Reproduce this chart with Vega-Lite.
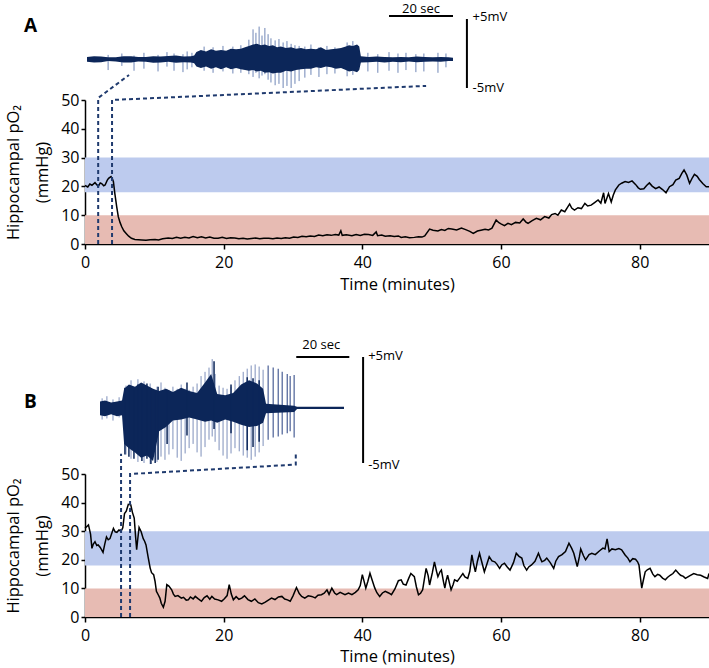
{
  "$schema": "https://vega.github.io/schema/vega-lite/v6.json",
  "padding": {"left": 5, "top": 0, "right": 0, "bottom": 0},
  "spacing": 13,
  "config": {
    "view": {"stroke": null},
    "font": "Open Sans",
    "axis": {
      "grid": false,
      "domainColor": "black",
      "domainWidth": 1.5,
      "tickColor": "black",
      "tickWidth": 1.5,
      "labelColor": "black",
      "titleColor": "black",
      "labelFontSize": 16,
      "titleFontSize": 16.5,
      "titleFontWeight": "normal"
    }
  },
  "datasets": {
    "bands": [
      {"band": "normoxia", "lo": 18, "hi": 30},
      {"band": "hypoxia", "lo": 0, "hi": 10}
    ],
    "pA": [
      {"t":0,"v":20.3},{"t":0.4,"v":19.8},{"t":0.7,"v":20.8},{"t":1.0,"v":20.4},{"t":1.44,"v":21.3},{"t":1.7,"v":20.6},{"t":1.9,"v":19.9},{"t":2.2,"v":21.2},{"t":2.4,"v":21.0},{"t":2.7,"v":20.2},{"t":2.9,"v":20.5},{"t":3.2,"v":22.1},{"t":3.4,"v":22.8},{"t":3.75,"v":23.4},{"t":3.95,"v":22.6},{"t":4.1,"v":21.6},{"t":4.3,"v":17.6},{"t":4.57,"v":13},{"t":4.8,"v":9.5},{"t":5.05,"v":7.5},{"t":5.3,"v":6.0},{"t":5.6,"v":4.6},{"t":6.0,"v":3.5},{"t":6.3,"v":2.7},{"t":6.7,"v":2.0},{"t":7.2,"v":1.6},{"t":7.7,"v":1.5},{"t":8.2,"v":1.4},{"t":8.8,"v":1.3},{"t":9.4,"v":1.5},{"t":10.1,"v":1.6},{"t":10.6,"v":1.4},{"t":11.2,"v":1.8},{"t":12.0,"v":2.1},{"t":12.6,"v":1.9},{"t":13.2,"v":2.3},{"t":13.8,"v":2.0},{"t":14.4,"v":2.3},{"t":15.0,"v":2.1},{"t":15.6,"v":2.6},{"t":16.2,"v":2.2},{"t":16.8,"v":2.5},{"t":17.4,"v":2.1},{"t":18.0,"v":2.4},{"t":18.6,"v":2.0},{"t":19.2,"v":2.0},{"t":19.8,"v":2.3},{"t":20.4,"v":1.9},{"t":21.0,"v":2.2},{"t":21.6,"v":2.1},{"t":22.2,"v":1.8},{"t":22.8,"v":2.0},{"t":23.4,"v":1.7},{"t":24.0,"v":1.9},{"t":24.6,"v":2.1},{"t":25.2,"v":1.8},{"t":25.8,"v":2.0},{"t":26.5,"v":2.0},{"t":27.1,"v":1.8},{"t":27.7,"v":2.1},{"t":28.3,"v":1.9},{"t":28.9,"v":2.2},{"t":29.5,"v":2.0},{"t":30.1,"v":2.4},{"t":30.7,"v":2.3},{"t":31.3,"v":2.7},{"t":31.9,"v":2.5},{"t":32.5,"v":2.8},{"t":33.1,"v":2.6},{"t":33.7,"v":3.1},{"t":34.3,"v":2.9},{"t":34.9,"v":3.2},{"t":35.5,"v":3.0},{"t":36.1,"v":3.3},{"t":36.6,"v":3.1},{"t":36.9,"v":4.6},{"t":37.1,"v":3.0},{"t":37.7,"v":3.2},{"t":38.5,"v":2.9},{"t":39.1,"v":3.3},{"t":39.7,"v":3.0},{"t":40.3,"v":3.4},{"t":40.9,"v":3.3},{"t":41.5,"v":3.0},{"t":42.0,"v":4.2},{"t":42.2,"v":2.9},{"t":42.8,"v":3.1},{"t":43.3,"v":2.7},{"t":44.0,"v":2.9},{"t":44.6,"v":2.6},{"t":45.2,"v":2.8},{"t":45.6,"v":2.3},{"t":46.2,"v":2.5},{"t":46.8,"v":2.2},{"t":47.5,"v":2.3},{"t":48.1,"v":2.5},{"t":48.6,"v":2.4},{"t":49.0,"v":2.8},{"t":49.7,"v":5.2},{"t":50.2,"v":4.8},{"t":50.9,"v":4.5},{"t":51.4,"v":5.0},{"t":51.9,"v":4.7},{"t":52.4,"v":5.4},{"t":52.9,"v":5.2},{"t":53.6,"v":4.9},{"t":54.3,"v":5.5},{"t":54.9,"v":5.0},{"t":55.5,"v":4.4},{"t":56.0,"v":3.7},{"t":56.6,"v":4.5},{"t":57.1,"v":4.8},{"t":57.7,"v":5.1},{"t":58.2,"v":4.9},{"t":58.7,"v":5.5},{"t":59.3,"v":8.3},{"t":59.7,"v":7.4},{"t":60.0,"v":7.0},{"t":60.5,"v":6.4},{"t":61.0,"v":7.2},{"t":61.5,"v":6.7},{"t":62.1,"v":7.5},{"t":62.7,"v":7.3},{"t":63.2,"v":8.7},{"t":63.6,"v":7.6},{"t":63.9,"v":7.2},{"t":64.5,"v":8.1},{"t":65.1,"v":8.9},{"t":65.7,"v":8.4},{"t":66.3,"v":9.5},{"t":66.9,"v":9.0},{"t":67.3,"v":10.2},{"t":67.8,"v":10.6},{"t":68.2,"v":10.0},{"t":68.7,"v":11.8},{"t":69.2,"v":11.2},{"t":69.9,"v":13.9},{"t":70.2,"v":12.5},{"t":70.6,"v":11.8},{"t":71.1,"v":12.6},{"t":71.6,"v":12.3},{"t":72.1,"v":14.1},{"t":72.5,"v":13.2},{"t":73.0,"v":13.5},{"t":73.5,"v":14.4},{"t":74.0,"v":15.3},{"t":74.4,"v":14.2},{"t":74.8,"v":17.8},{"t":75.0,"v":14.1},{"t":75.5,"v":17.5},{"t":75.9,"v":14.6},{"t":76.2,"v":17.0},{"t":76.5,"v":18.8},{"t":77.0,"v":20.5},{"t":77.4,"v":21.1},{"t":77.9,"v":21.7},{"t":78.4,"v":21.4},{"t":78.9,"v":21.9},{"t":79.4,"v":20.7},{"t":79.8,"v":19.5},{"t":80.1,"v":19.0},{"t":80.6,"v":19.2},{"t":81.0,"v":20.3},{"t":81.4,"v":21.2},{"t":81.8,"v":20.1},{"t":82.3,"v":19.2},{"t":82.8,"v":19.8},{"t":83.3,"v":18.9},{"t":83.8,"v":17.8},{"t":84.3,"v":19.9},{"t":84.8,"v":20.6},{"t":85.2,"v":22.2},{"t":85.7,"v":22.8},{"t":86.1,"v":24.6},{"t":86.4,"v":25.7},{"t":86.8,"v":23.9},{"t":87.2,"v":21.1},{"t":87.6,"v":23.0},{"t":87.9,"v":24.2},{"t":88.3,"v":23.5},{"t":88.6,"v":22.4},{"t":89.1,"v":21.0},{"t":89.6,"v":19.9},{"t":90,"v":19.9}
    ],
    "pB": [
      {"t":0,"v":31.0},{"t":0.5,"v":32.2},{"t":0.8,"v":29.0},{"t":1.0,"v":24.0},{"t":1.2,"v":25.5},{"t":1.44,"v":26.3},{"t":1.7,"v":25.0},{"t":1.9,"v":25.2},{"t":2.2,"v":24.3},{"t":2.6,"v":22.6},{"t":2.85,"v":25.5},{"t":3.1,"v":28.0},{"t":3.35,"v":27.0},{"t":3.6,"v":27.4},{"t":3.85,"v":29.2},{"t":4.1,"v":31.0},{"t":4.35,"v":29.8},{"t":4.6,"v":29.6},{"t":4.9,"v":30.4},{"t":5.2,"v":30.0},{"t":5.45,"v":31.2},{"t":5.7,"v":36.2},{"t":5.95,"v":37.0},{"t":6.25,"v":39.4},{"t":6.6,"v":39.2},{"t":6.85,"v":36.5},{"t":7.1,"v":34.6},{"t":7.3,"v":28.0},{"t":7.45,"v":23.5},{"t":7.6,"v":27.0},{"t":7.8,"v":31.3},{"t":8.1,"v":29.8},{"t":8.4,"v":27.4},{"t":8.6,"v":26.5},{"t":8.8,"v":25.2},{"t":9.1,"v":21.0},{"t":9.4,"v":17.1},{"t":9.6,"v":15.5},{"t":9.9,"v":14.8},{"t":10.1,"v":12.5},{"t":10.3,"v":9.0},{"t":10.6,"v":7.6},{"t":10.8,"v":6.6},{"t":11.0,"v":4.8},{"t":11.3,"v":3.4},{"t":11.55,"v":5.5},{"t":11.8,"v":11.3},{"t":12.1,"v":10.8},{"t":12.5,"v":9.5},{"t":12.75,"v":8.0},{"t":13.0,"v":7.2},{"t":13.4,"v":7.5},{"t":13.9,"v":6.6},{"t":14.2,"v":6.9},{"t":14.6,"v":5.9},{"t":14.9,"v":6.0},{"t":15.2,"v":7.0},{"t":15.6,"v":6.3},{"t":15.9,"v":7.2},{"t":16.3,"v":6.4},{"t":16.8,"v":5.5},{"t":17.2,"v":6.8},{"t":17.6,"v":7.4},{"t":18.0,"v":6.2},{"t":18.3,"v":7.2},{"t":18.7,"v":6.3},{"t":19.2,"v":6.0},{"t":19.7,"v":5.5},{"t":20.1,"v":6.4},{"t":20.5,"v":7.5},{"t":20.8,"v":11.3},{"t":21.1,"v":8.0},{"t":21.4,"v":6.0},{"t":21.8,"v":7.1},{"t":22.2,"v":6.2},{"t":22.6,"v":6.6},{"t":23.0,"v":7.4},{"t":23.5,"v":6.1},{"t":24.0,"v":5.5},{"t":24.5,"v":6.3},{"t":25.0,"v":5.0},{"t":25.5,"v":4.6},{"t":26.0,"v":5.2},{"t":26.5,"v":6.0},{"t":26.9,"v":6.6},{"t":27.4,"v":6.1},{"t":27.9,"v":7.0},{"t":28.4,"v":7.2},{"t":28.8,"v":6.3},{"t":29.2,"v":6.0},{"t":29.6,"v":5.5},{"t":30.0,"v":7.4},{"t":30.5,"v":10.3},{"t":30.9,"v":8.2},{"t":31.25,"v":7.2},{"t":31.7,"v":6.6},{"t":32.2,"v":7.4},{"t":32.7,"v":7.2},{"t":33.2,"v":6.7},{"t":33.6,"v":7.6},{"t":34.1,"v":7.8},{"t":34.5,"v":8.3},{"t":34.9,"v":9.5},{"t":35.2,"v":7.9},{"t":35.6,"v":10.1},{"t":36.0,"v":8.4},{"t":36.3,"v":7.8},{"t":36.8,"v":8.6},{"t":37.5,"v":7.8},{"t":38.0,"v":8.4},{"t":38.5,"v":7.8},{"t":39.0,"v":8.6},{"t":39.4,"v":9.5},{"t":39.7,"v":11.0},{"t":40.0,"v":14.8},{"t":40.3,"v":12.0},{"t":40.5,"v":10.1},{"t":40.8,"v":12.5},{"t":41.1,"v":15.3},{"t":41.4,"v":13.0},{"t":41.8,"v":10.1},{"t":42.1,"v":8.5},{"t":42.5,"v":7.2},{"t":42.9,"v":8.4},{"t":43.3,"v":9.0},{"t":43.8,"v":8.4},{"t":44.2,"v":7.8},{"t":44.7,"v":9.8},{"t":45.2,"v":12.7},{"t":45.6,"v":13.0},{"t":45.9,"v":11.5},{"t":46.3,"v":11.2},{"t":46.7,"v":13.6},{"t":47.0,"v":15.2},{"t":47.5,"v":14.1},{"t":47.8,"v":10.5},{"t":48.1,"v":7.8},{"t":48.4,"v":8.3},{"t":48.7,"v":9.5},{"t":49.0,"v":14.0},{"t":49.2,"v":17.0},{"t":49.5,"v":14.4},{"t":49.7,"v":11.2},{"t":50.1,"v":15.5},{"t":50.4,"v":19.3},{"t":50.7,"v":16.0},{"t":50.9,"v":14.1},{"t":51.2,"v":15.8},{"t":51.4,"v":16.4},{"t":51.7,"v":12.4},{"t":51.9,"v":10.1},{"t":52.1,"v":12.8},{"t":52.3,"v":14.6},{"t":52.6,"v":11.5},{"t":52.8,"v":9.5},{"t":53.1,"v":11.4},{"t":53.3,"v":13.0},{"t":53.7,"v":12.5},{"t":54.0,"v":13.5},{"t":54.5,"v":15.2},{"t":54.8,"v":14.0},{"t":55.2,"v":13.5},{"t":55.5,"v":16.0},{"t":55.8,"v":21.7},{"t":56.0,"v":19.0},{"t":56.3,"v":15.8},{"t":56.6,"v":19.5},{"t":56.9,"v":22.3},{"t":57.2,"v":19.5},{"t":57.6,"v":15.8},{"t":57.9,"v":18.0},{"t":58.3,"v":21.1},{"t":58.7,"v":19.6},{"t":59.1,"v":19.3},{"t":59.4,"v":18.5},{"t":59.8,"v":17.0},{"t":60.1,"v":18.2},{"t":60.5,"v":18.8},{"t":60.9,"v":17.5},{"t":61.3,"v":16.4},{"t":61.8,"v":19.0},{"t":62.2,"v":22.3},{"t":62.6,"v":21.2},{"t":63.0,"v":20.6},{"t":63.3,"v":18.0},{"t":63.7,"v":16.4},{"t":64.0,"v":17.5},{"t":64.4,"v":18.2},{"t":64.9,"v":19.5},{"t":65.4,"v":22.3},{"t":65.7,"v":20.4},{"t":65.9,"v":19.3},{"t":66.3,"v":19.8},{"t":66.6,"v":20.6},{"t":67.1,"v":19.0},{"t":67.6,"v":17.0},{"t":67.9,"v":19.5},{"t":68.3,"v":21.1},{"t":68.8,"v":21.8},{"t":69.3,"v":22.9},{"t":69.8,"v":25.8},{"t":70.2,"v":24.0},{"t":70.5,"v":22.3},{"t":70.8,"v":19.5},{"t":71.0,"v":17.6},{"t":71.3,"v":21.0},{"t":71.5,"v":23.8},{"t":71.9,"v":21.4},{"t":72.2,"v":20.0},{"t":72.7,"v":21.8},{"t":73.1,"v":22.3},{"t":73.6,"v":21.8},{"t":74.1,"v":22.9},{"t":74.4,"v":23.5},{"t":74.7,"v":24.1},{"t":75.0,"v":23.8},{"t":75.3,"v":27.3},{"t":75.6,"v":22.9},{"t":76.0,"v":23.8},{"t":76.5,"v":23.5},{"t":77.0,"v":23.9},{"t":77.4,"v":23.5},{"t":77.9,"v":21.7},{"t":78.3,"v":20.6},{"t":78.6,"v":19.3},{"t":79.0,"v":20.4},{"t":79.4,"v":20.2},{"t":79.7,"v":19.3},{"t":79.9,"v":18.2},{"t":80.1,"v":14.0},{"t":80.3,"v":10.1},{"t":80.5,"v":12.5},{"t":80.8,"v":15.8},{"t":81.1,"v":16.5},{"t":81.5,"v":17.0},{"t":81.9,"v":15.0},{"t":82.2,"v":14.1},{"t":82.6,"v":14.9},{"t":82.9,"v":14.6},{"t":83.3,"v":13.6},{"t":83.7,"v":13.0},{"t":84.0,"v":13.8},{"t":84.4,"v":14.6},{"t":84.8,"v":15.2},{"t":85.2,"v":16.4},{"t":85.6,"v":15.3},{"t":85.9,"v":14.6},{"t":86.3,"v":14.2},{"t":86.6,"v":13.5},{"t":87.2,"v":14.4},{"t":87.8,"v":15.2},{"t":88.3,"v":14.8},{"t":88.8,"v":14.6},{"t":89.3,"v":14.0},{"t":89.8,"v":13.5},{"t":90,"v":15.2}
    ],
    "dashA": [
      {"seg":"start","i":0,"t":1.9,"v":0},{"seg":"start","i":1,"t":1.9,"v":50.7},{"seg":"start","i":2,"t":6.35,"v":58.7},
      {"seg":"end","i":0,"t":3.9,"v":0},{"seg":"end","i":1,"t":3.9,"v":50},{"seg":"end","i":2,"t":49.2,"v":54.9}
    ],
    "dashB": [
      {"seg":"start","i":0,"t":5.2,"v":0},{"seg":"start","i":1,"t":5.2,"v":57.1},
      {"seg":"end","i":0,"t":6.5,"v":0},{"seg":"end","i":1,"t":6.5,"v":50},{"seg":"end","i":2,"t":30.4,"v":53.3},{"seg":"end","i":3,"t":30.4,"v":57.8}
    ],
    "eegA": [
      {"s":0,"lo":-1.2,"hi":-0.5},{"s":2.2,"lo":-1.3,"hi":-0.4},{"s":4.4,"lo":-1.25,"hi":-0.45},{"s":6.6,"lo":-1.1,"hi":-0.55},{"s":9,"lo":-1.15,"hi":-0.55},{"s":11.4,"lo":-1.3,"hi":-0.4},{"s":13.8,"lo":-1.3,"hi":-0.4},{"s":16,"lo":-1.15,"hi":-0.5},{"s":18.4,"lo":-1.2,"hi":-0.5},{"s":20.7,"lo":-1.35,"hi":-0.4},{"s":23,"lo":-1.3,"hi":-0.45},{"s":25.4,"lo":-1.2,"hi":-0.35},{"s":27.8,"lo":-1.35,"hi":-0.3},{"s":30.2,"lo":-1.25,"hi":-0.45},{"s":32.5,"lo":-1.3,"hi":-0.4},{"s":33.5,"lo":-1.4,"hi":-0.3},{"s":34.2,"lo":-1.9,"hi":0.2},{"s":35.6,"lo":-2.1,"hi":0.5},{"s":37.2,"lo":-1.9,"hi":0.3},{"s":38.8,"lo":-2.2,"hi":0.6},{"s":40.3,"lo":-2.0,"hi":0.4},{"s":41.9,"lo":-2.3,"hi":0.5},{"s":43.5,"lo":-2.0,"hi":0.4},{"s":45,"lo":-2.3,"hi":0.7},{"s":46.6,"lo":-2.1,"hi":0.6},{"s":48.1,"lo":-2.3,"hi":0.7},{"s":49.4,"lo":-2.4,"hi":0.9},{"s":50.6,"lo":-2.5,"hi":1.1},{"s":51.9,"lo":-2.4,"hi":1.3},{"s":53.1,"lo":-2.6,"hi":1.4},{"s":54.4,"lo":-2.5,"hi":1.2},{"s":55.6,"lo":-2.8,"hi":1.3},{"s":56.9,"lo":-2.7,"hi":1.1},{"s":58.1,"lo":-2.9,"hi":1.2},{"s":59.4,"lo":-2.8,"hi":0.9},{"s":60.6,"lo":-2.8,"hi":1.0},{"s":62.2,"lo":-2.5,"hi":0.8},{"s":63.8,"lo":-2.6,"hi":0.9},{"s":65.3,"lo":-2.4,"hi":0.7},{"s":66.9,"lo":-2.3,"hi":0.8},{"s":68.4,"lo":-2.2,"hi":0.6},{"s":70,"lo":-2.2,"hi":0.7},{"s":71.6,"lo":-2.0,"hi":0.6},{"s":73.1,"lo":-2.1,"hi":0.9},{"s":74.7,"lo":-1.9,"hi":0.5},{"s":76.3,"lo":-2.0,"hi":0.6},{"s":77.8,"lo":-2.2,"hi":0.7},{"s":79.4,"lo":-2.1,"hi":0.8},{"s":80.9,"lo":-2.4,"hi":1.0},{"s":81.9,"lo":-2.6,"hi":1.2},{"s":83.1,"lo":-2.5,"hi":1.1},{"s":84.4,"lo":-2.7,"hi":1.3},{"s":85.1,"lo":-2.4,"hi":1.0},{"s":85.6,"lo":-1.3,"hi":-0.4},{"s":88,"lo":-1.25,"hi":-0.5},{"s":90.5,"lo":-1.2,"hi":-0.45},{"s":93,"lo":-1.3,"hi":-0.5},{"s":95.6,"lo":-1.2,"hi":-0.55},{"s":98.1,"lo":-1.25,"hi":-0.5},{"s":100.6,"lo":-1.15,"hi":-0.55},{"s":103.1,"lo":-1.25,"hi":-0.45},{"s":105.6,"lo":-1.2,"hi":-0.5},{"s":108.1,"lo":-1.15,"hi":-0.55},{"s":110.6,"lo":-1.2,"hi":-0.5},{"s":113,"lo":-1.1,"hi":-0.55},{"s":114.4,"lo":-1.1,"hi":-0.6}
    ],
    "spkA": [
      {"s":6.6,"lo":-2.4,"hi":-0.2},{"s":10.9,"lo":-1.8,"hi":0.0},{"s":14.7,"lo":-2.5,"hi":-0.3},{"s":17.8,"lo":-2.2,"hi":0.1},{"s":22.2,"lo":-2.6,"hi":-0.2},{"s":25,"lo":-1.9,"hi":0.2},{"s":27.2,"lo":-2.5,"hi":0.0},{"s":30,"lo":-2.7,"hi":-0.1},{"s":31.3,"lo":-2.3,"hi":0.3},{"s":32.8,"lo":-2.0,"hi":0.1},
      {"s":36.6,"lo":-2.5,"hi":1.0},{"s":39.4,"lo":-2.8,"hi":0.9},{"s":42.5,"lo":-2.6,"hi":1.1},{"s":45.6,"lo":-2.9,"hi":1.0},{"s":48.1,"lo":-2.8,"hi":1.2},{"s":50.6,"lo":-3.0,"hi":2.0},{"s":51.9,"lo":-3.4,"hi":3.5},{"s":52.8,"lo":-2.8,"hi":3.0},{"s":53.8,"lo":-3.6,"hi":3.9},{"s":54.7,"lo":-3.2,"hi":2.6},{"s":55.6,"lo":-3.0,"hi":3.7},{"s":56.6,"lo":-3.8,"hi":2.8},{"s":57.5,"lo":-4.2,"hi":2.2},{"s":58.8,"lo":-4.6,"hi":1.9},{"s":60,"lo":-4.4,"hi":2.1},{"s":61.3,"lo":-5.0,"hi":1.6},{"s":62.5,"lo":-4.7,"hi":1.8},{"s":63.8,"lo":-5.0,"hi":1.4},{"s":65,"lo":-4.4,"hi":1.2},{"s":66.3,"lo":-4.0,"hi":1.1},{"s":68.1,"lo":-3.5,"hi":1.0},{"s":70,"lo":-3.1,"hi":1.3},{"s":72.5,"lo":-3.4,"hi":0.9},{"s":75,"lo":-3.0,"hi":1.1},{"s":77.5,"lo":-2.9,"hi":0.9},{"s":81.3,"lo":-3.3,"hi":1.6},{"s":83.1,"lo":-3.1,"hi":1.8},
      {"s":87.8,"lo":-2.6,"hi":0.1},{"s":90.9,"lo":-2.8,"hi":-0.1},{"s":94.4,"lo":-2.5,"hi":0.2},{"s":97.2,"lo":-2.8,"hi":0.0},{"s":99.7,"lo":-2.4,"hi":0.1},{"s":102.8,"lo":-2.7,"hi":-0.1},{"s":105.3,"lo":-2.6,"hi":0.0},{"s":109.7,"lo":-2.8,"hi":0.1},{"s":112.2,"lo":-2.0,"hi":0.0}
    ],
    "eegB": [
      {"s":0,"lo":-0.5,"hi":0.8},{"s":1.9,"lo":-0.6,"hi":0.9},{"s":4.2,"lo":-0.4,"hi":0.7},{"s":6.4,"lo":-0.6,"hi":0.8},{"s":8.3,"lo":-0.5,"hi":0.9},{"s":9.1,"lo":-3.2,"hi":2.0},{"s":10.9,"lo":-3.6,"hi":2.4},{"s":13.2,"lo":-4.0,"hi":2.2},{"s":15.5,"lo":-4.5,"hi":2.6},{"s":17.7,"lo":-4.3,"hi":2.3},{"s":20,"lo":-4.8,"hi":2.0},{"s":22.3,"lo":-2.0,"hi":1.8},{"s":24.9,"lo":-1.6,"hi":2.0},{"s":27.5,"lo":-1.0,"hi":1.7},{"s":30.6,"lo":-0.9,"hi":2.1},{"s":33.6,"lo":-0.7,"hi":1.8},{"s":36.6,"lo":-0.9,"hi":1.6},{"s":39.6,"lo":-1.1,"hi":2.6},{"s":41.9,"lo":-1.0,"hi":3.4},{"s":44.2,"lo":-1.2,"hi":1.5},{"s":47.2,"lo":-0.9,"hi":1.4},{"s":50.2,"lo":-1.1,"hi":1.6},{"s":53.2,"lo":-1.4,"hi":2.4},{"s":56.2,"lo":-1.6,"hi":2.8},{"s":59.2,"lo":-1.5,"hi":2.5},{"s":61.5,"lo":-1.2,"hi":2.0},{"s":62.6,"lo":-0.3,"hi":0.6},{"s":73.2,"lo":-0.2,"hi":0.4},{"s":74.3,"lo":0.1,"hi":0.3},{"s":92,"lo":0.1,"hi":0.3}
    ],
    "spkB": [
      {"s":0.8,"lo":-0.9,"hi":1.1},{"s":2.6,"lo":-0.8,"hi":1.3},{"s":4.9,"lo":-1.0,"hi":1.0},{"s":7.2,"lo":-0.7,"hi":1.2},
      {"s":9.8,"lo":-4.2,"hi":2.3},{"s":11.7,"lo":-4.6,"hi":2.8},{"s":14.3,"lo":-4.9,"hi":2.9},{"s":16.6,"lo":-5.0,"hi":2.7},{"s":18.9,"lo":-5.1,"hi":2.5},{"s":21.5,"lo":-4.9,"hi":2.2},{"s":23,"lo":-4.4,"hi":2.6},{"s":24.5,"lo":-4.7,"hi":2.1},{"s":26,"lo":-4.2,"hi":1.9},{"s":27.5,"lo":-3.7,"hi":2.2},{"s":29.1,"lo":-4.5,"hi":2.0},{"s":30.6,"lo":-4.8,"hi":2.4},{"s":32.1,"lo":-4.1,"hi":2.0},{"s":33.6,"lo":-3.6,"hi":1.9},{"s":35.1,"lo":-3.2,"hi":2.2},{"s":36.6,"lo":-4.0,"hi":2.5},{"s":38.1,"lo":-4.4,"hi":3.2},{"s":39.6,"lo":-3.5,"hi":3.6},{"s":41.1,"lo":-2.8,"hi":4.0},{"s":42.3,"lo":-2.5,"hi":4.8},{"s":43.4,"lo":-3.0,"hi":3.4},{"s":44.9,"lo":-3.8,"hi":2.3},{"s":46.4,"lo":-4.3,"hi":2.1},{"s":47.9,"lo":-4.6,"hi":2.0},{"s":49.4,"lo":-4.1,"hi":2.2},{"s":50.9,"lo":-3.6,"hi":2.8},{"s":52.5,"lo":-3.9,"hi":3.2},{"s":54,"lo":-4.3,"hi":3.6},{"s":55.5,"lo":-4.5,"hi":3.9},{"s":57,"lo":-4.7,"hi":4.2},{"s":58.5,"lo":-4.4,"hi":4.3},{"s":60,"lo":-4.0,"hi":4.1},{"s":61.5,"lo":-3.4,"hi":3.8}
    ],
    "spkBend": [
      {"s":63.4,"lo":-2.8,"hi":4.2},{"s":65.3,"lo":-2.6,"hi":4.0},{"s":67.2,"lo":-2.5,"hi":3.9},{"s":68.7,"lo":-2.3,"hi":3.6},{"s":70.6,"lo":-2.2,"hi":3.4},{"s":71.7,"lo":-2.0,"hi":3.2},{"s":73.2,"lo":-2.6,"hi":3.3}
    ],
    "spkBdark": [
      {"s":9.4,"lo":-4.2,"hi":2.1},{"s":10.9,"lo":-4.4,"hi":2.3},{"s":12.8,"lo":-4.6,"hi":2.0},{"s":14.3,"lo":-3.9,"hi":2.4},{"s":15.8,"lo":-4.8,"hi":2.1},{"s":17.7,"lo":-4.6,"hi":2.5},{"s":19.2,"lo":-5.1,"hi":2.0},{"s":20.8,"lo":-5.0,"hi":1.8},{"s":21.9,"lo":-4.7,"hi":2.2},{"s":25.3,"lo":-3.2,"hi":1.9},{"s":32.8,"lo":-2.4,"hi":2.6},{"s":43,"lo":-1.8,"hi":4.6},{"s":49.4,"lo":-2.2,"hi":2.4},{"s":55.5,"lo":-3.8,"hi":3.1},{"s":57.7,"lo":-3.5,"hi":3.0},{"s":60,"lo":-3.0,"hi":2.8}
    ]
  },
  "vconcat": [
    {
      "width": 624,
      "height": 244,
      "title": {"text": "A", "anchor": "start", "frame": "group", "fontSize": 19, "fontWeight": "bold", "color": "black", "dx": -61, "offset": -36},
      "layer": [
        {
          "layer": [
            {
              "data": {"name": "bands"},
              "mark": {"type": "rect"},
              "encoding": {
                "x": {"datum": 0, "type": "quantitative"},
                "x2": {"datum": 90},
                "y": {"field": "lo", "type": "quantitative"},
                "y2": {"field": "hi"},
                "color": {"field": "band", "type": "nominal", "scale": {"domain": ["normoxia", "hypoxia"], "range": ["#bdcbee", "#e7bbb3"]}, "legend": null}
              }
            },
            {
              "data": {"name": "pA"},
              "mark": {"type": "line", "color": "black", "strokeWidth": 1.5},
              "encoding": {
                "x": {"field": "t", "type": "quantitative", "scale": {"domain": [0, 90], "nice": false},
                  "axis": {"title": "Time (minutes)", "values": [0, 20, 40, 60, 80], "tickSize": 5, "labelPadding": 5, "titlePadding": 6, "labelFlush": false}},
                "y": {"field": "v", "type": "quantitative", "scale": {"domain": [0, 50], "range": [244, 100], "nice": false},
                  "axis": {"title": ["Hippocampal pO₂", "(mmHg)"], "values": [0, 10, 20, 30, 40, 50], "tickSize": 4, "labelPadding": 2, "titlePadding": 10, "titleLineHeight": 29}}
              }
            },
            {
              "data": {"name": "dashA"},
              "mark": {"type": "line", "color": "#1f3a6e", "strokeWidth": 2, "strokeDash": [4, 3]},
              "encoding": {
                "x": {"field": "t", "type": "quantitative"},
                "y": {"field": "v", "type": "quantitative"},
                "detail": {"field": "seg"},
                "order": {"field": "i"}
              }
            }
          ]
        },
        {
          "layer": [
            {
              "data": {"name": "spkA"},
              "mark": {"type": "rule", "color": "#6f86b6", "strokeWidth": 1},
              "encoding": {
                "x": {"field": "s", "type": "quantitative", "scale": {"domain": [0, 114.4], "range": [2, 368], "nice": false, "zero": false}, "axis": null},
                "y": {"field": "lo", "type": "quantitative", "scale": {"domain": [-5, 5], "range": [88, 19], "nice": false, "zero": false}, "axis": null},
                "y2": {"field": "hi"}
              }
            },
            {
              "data": {"name": "eegA"},
              "mark": {"type": "area", "color": "#0c2659"},
              "encoding": {
                "x": {"field": "s", "type": "quantitative"},
                "y": {"field": "lo", "type": "quantitative"},
                "y2": {"field": "hi"}
              }
            },
            {
              "data": {"values": [{}]},
              "mark": {"type": "rule", "color": "black", "strokeWidth": 2},
              "encoding": {"x": {"datum": 94.4, "type": "quantitative"}, "x2": {"datum": 114.4}, "y": {"datum": 5.43, "type": "quantitative"}}
            },
            {
              "data": {"values": [{}]},
              "mark": {"type": "rule", "color": "black", "strokeWidth": 2},
              "encoding": {"x": {"datum": 118.75, "type": "quantitative"}, "y": {"datum": -5, "type": "quantitative"}, "y2": {"datum": 5}}
            },
            {
              "data": {"values": [{}]},
              "mark": {"type": "text", "text": "20 sec", "fontSize": 13, "align": "center", "baseline": "middle", "color": "black"},
              "encoding": {"x": {"datum": 104.4, "type": "quantitative"}, "y": {"datum": 6.45, "type": "quantitative"}}
            },
            {
              "data": {"values": [{}]},
              "mark": {"type": "text", "text": "+5mV", "fontSize": 13, "align": "left", "baseline": "middle", "color": "black"},
              "encoding": {"x": {"datum": 120.5, "type": "quantitative"}, "y": {"datum": 5.3, "type": "quantitative"}}
            },
            {
              "data": {"values": [{}]},
              "mark": {"type": "text", "text": "-5mV", "fontSize": 13, "align": "left", "baseline": "middle", "color": "black"},
              "encoding": {"x": {"datum": 120.5, "type": "quantitative"}, "y": {"datum": -5.0, "type": "quantitative"}}
            }
          ]
        }
      ],
      "resolve": {"scale": {"x": "independent", "y": "independent"}}
    },
    {
      "width": 624,
      "height": 311,
      "title": {"text": "B", "anchor": "start", "frame": "group", "fontSize": 19, "fontWeight": "bold", "color": "black", "dx": -61, "offset": -106},
      "layer": [
        {
          "layer": [
            {
              "data": {"name": "bands"},
              "mark": {"type": "rect"},
              "encoding": {
                "x": {"datum": 0, "type": "quantitative"},
                "x2": {"datum": 90},
                "y": {"field": "lo", "type": "quantitative"},
                "y2": {"field": "hi"},
                "color": {"field": "band", "type": "nominal", "scale": {"domain": ["normoxia", "hypoxia"], "range": ["#bdcbee", "#e7bbb3"]}, "legend": null}
              }
            },
            {
              "data": {"name": "pB"},
              "mark": {"type": "line", "color": "black", "strokeWidth": 1.5},
              "encoding": {
                "x": {"field": "t", "type": "quantitative", "scale": {"domain": [0, 90], "nice": false},
                  "axis": {"title": "Time (minutes)", "values": [0, 20, 40, 60, 80], "tickSize": 5, "labelPadding": 5, "titlePadding": 5, "labelFlush": false}},
                "y": {"field": "v", "type": "quantitative", "scale": {"domain": [0, 50], "range": [311, 168], "nice": false},
                  "axis": {"title": ["Hippocampal pO₂", "(mmHg)"], "values": [0, 10, 20, 30, 40, 50], "tickSize": 4, "labelPadding": 2, "titlePadding": 10, "titleLineHeight": 29}}
              }
            },
            {
              "data": {"name": "dashB"},
              "mark": {"type": "line", "color": "#1f3a6e", "strokeWidth": 2, "strokeDash": [4, 3]},
              "encoding": {
                "x": {"field": "t", "type": "quantitative"},
                "y": {"field": "v", "type": "quantitative"},
                "detail": {"field": "seg"},
                "order": {"field": "i"}
              }
            }
          ]
        },
        {
          "layer": [
            {
              "data": {"name": "spkB"},
              "mark": {"type": "rule", "color": "#7e90bb", "strokeWidth": 1},
              "encoding": {
                "x": {"field": "s", "type": "quantitative", "scale": {"domain": [0, 92], "range": [15, 259], "nice": false, "zero": false}, "axis": null},
                "y": {"field": "lo", "type": "quantitative", "scale": {"domain": [-5, 5], "range": [157, 51], "nice": false, "zero": false}, "axis": null},
                "y2": {"field": "hi"}
              }
            },
            {
              "data": {"name": "spkBend"},
              "mark": {"type": "rule", "color": "#4a5f96", "strokeWidth": 1.2},
              "encoding": {
                "x": {"field": "s", "type": "quantitative"},
                "y": {"field": "lo", "type": "quantitative"},
                "y2": {"field": "hi"}
              }
            },
            {
              "data": {"name": "eegB"},
              "mark": {"type": "area", "color": "#0c2659"},
              "encoding": {
                "x": {"field": "s", "type": "quantitative"},
                "y": {"field": "lo", "type": "quantitative"},
                "y2": {"field": "hi"}
              }
            },
            {
              "data": {"name": "spkBdark"},
              "mark": {"type": "rule", "color": "#0c2659", "strokeWidth": 1.5},
              "encoding": {
                "x": {"field": "s", "type": "quantitative"},
                "y": {"field": "lo", "type": "quantitative"},
                "y2": {"field": "hi"}
              }
            },
            {
              "data": {"values": [{}]},
              "mark": {"type": "rule", "color": "black", "strokeWidth": 2},
              "encoding": {"x": {"datum": 74, "type": "quantitative"}, "x2": {"datum": 94}, "y": {"datum": 5, "type": "quantitative"}}
            },
            {
              "data": {"values": [{}]},
              "mark": {"type": "rule", "color": "black", "strokeWidth": 2},
              "encoding": {"x": {"datum": 99.2, "type": "quantitative"}, "y": {"datum": -5, "type": "quantitative"}, "y2": {"datum": 5}}
            },
            {
              "data": {"values": [{}]},
              "mark": {"type": "text", "text": "20 sec", "fontSize": 13, "align": "center", "baseline": "middle", "color": "black"},
              "encoding": {"x": {"datum": 83.4, "type": "quantitative"}, "y": {"datum": 6.13, "type": "quantitative"}}
            },
            {
              "data": {"values": [{}]},
              "mark": {"type": "text", "text": "+5mV", "fontSize": 13, "align": "left", "baseline": "middle", "color": "black"},
              "encoding": {"x": {"datum": 101.1, "type": "quantitative"}, "y": {"datum": 5.1, "type": "quantitative"}}
            },
            {
              "data": {"values": [{}]},
              "mark": {"type": "text", "text": "-5mV", "fontSize": 13, "align": "left", "baseline": "middle", "color": "black"},
              "encoding": {"x": {"datum": 101.1, "type": "quantitative"}, "y": {"datum": -5.2, "type": "quantitative"}}
            }
          ]
        }
      ],
      "resolve": {"scale": {"x": "independent", "y": "independent"}}
    }
  ]
}
